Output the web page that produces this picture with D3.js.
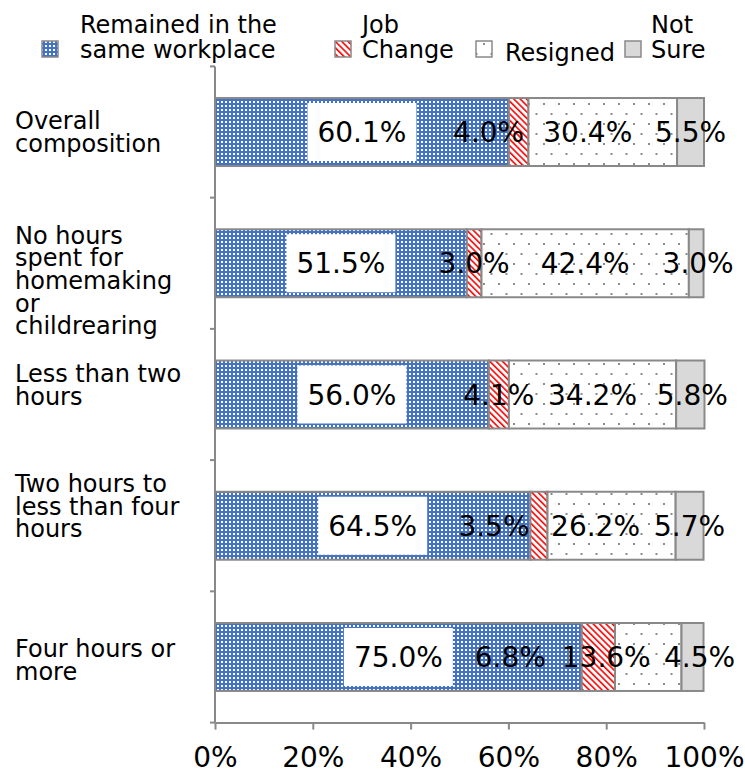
<!DOCTYPE html>
<html>
<head>
<meta charset="utf-8">
<script src="https://cdn.jsdelivr.net/npm/d3@7"></script>
<style>
  html, body { margin: 0; padding: 0; background: #fff; }
  svg { display: block; font-family: "DejaVu Sans", Verdana, sans-serif; }
</style>
</head>
<body>
<svg id="chart" width="745" height="776"></svg>
<script>
// ---- data ----
const categories = [
  "Overall composition",
  "No hours spent for homemaking or childrearing",
  "Less than two hours",
  "Two hours to less than four hours",
  "Four hours or more"
];
const categoryLines = [
  ["Overall", "composition"],
  ["No hours", "spent for", "homemaking", "or", "childrearing"],
  ["Less than two", "hours"],
  ["Two hours to", "less than four", "hours"],
  ["Four hours or", "more"]
];
const seriesNames = ["Remained in the same workplace", "Job Change", "Resigned", "Not Sure"];
const legendLines = [["Remained in the", "same workplace"], ["Job", "Change"], ["Resigned"], ["Not", "Sure"]];
const remained  = [60.1, 51.5, 56.0, 64.5, 75.0];
const jobChange = [4.0, 3.0, 4.1, 3.5, 6.8];
const resigned  = [30.4, 42.4, 34.2, 26.2, 13.6];
const notSure   = [5.5, 3.0, 5.8, 5.7, 4.5];
const xTicks    = [0, 20, 40, 60, 80, 100];

// ---- layout ----
const svg = d3.select("#chart");
const axisColor = "#898989";
const x = d3.scaleLinear().domain([0, 100]).range([215, 704]);
const y = d3.scaleBand().domain(categories).range([66.4, 722.6])
  .paddingInner(0.482).paddingOuter(0.241);

// fill patterns for the four series
const defs = svg.append("defs");
const pBlue = defs.append("pattern").attr("id", "pat-remained")
  .attr("patternUnits", "userSpaceOnUse").attr("width", 4).attr("height", 4);
pBlue.append("rect").attr("width", 4).attr("height", 4).attr("fill", "#4472C4");
pBlue.append("rect").attr("x", 1).attr("y", 1).attr("width", 2).attr("height", 2).attr("fill", "#ffffff");

const pRed = defs.append("pattern").attr("id", "pat-job")
  .attr("patternUnits", "userSpaceOnUse").attr("width", 4.5).attr("height", 4.5)
  .attr("patternTransform", "rotate(-45)");
pRed.append("rect").attr("width", 4.5).attr("height", 4.5).attr("fill", "#ffffff");
pRed.append("rect").attr("x", 0).attr("y", 0).attr("width", 1.6).attr("height", 4.5).attr("fill", "#ff0000");

const pDots = defs.append("pattern").attr("id", "pat-resigned")
  .attr("patternUnits", "userSpaceOnUse").attr("width", 15).attr("height", 20);
pDots.append("rect").attr("width", 15).attr("height", 20).attr("fill", "#ffffff");
pDots.append("rect").attr("x", 3).attr("y", 3).attr("width", 2).attr("height", 2).attr("fill", "#8c8c8c");
pDots.append("rect").attr("x", 10.5).attr("y", 13).attr("width", 2).attr("height", 2).attr("fill", "#8c8c8c");

const fills = ["url(#pat-remained)", "url(#pat-job)", "url(#pat-resigned)", "#D9D9D9"];

// stacked rows
const rows = categories.map((c, i) => {
  const vals = [remained[i], jobChange[i], resigned[i], notSure[i]];
  let acc = 0;
  return vals.map((v, k) => {
    const seg = { cat: c, row: i, series: k, value: v, x0: acc, x1: acc + v };
    acc += v;
    return seg;
  });
});
const segments = rows.flat();

// y axis line and category separators
svg.append("line")
  .attr("x1", x(0)).attr("x2", x(0))
  .attr("y1", y.range()[0]).attr("y2", y.range()[1])
  .attr("stroke", axisColor).attr("stroke-width", 2);
const bounds = d3.range(categories.length + 1).map(i => y.range()[0] + i * y.step());
svg.selectAll(".ysep").data(bounds).join("line")
  .attr("x1", x(0) - 5).attr("x2", x(0))
  .attr("y1", d => d).attr("y2", d => d)
  .attr("stroke", axisColor).attr("stroke-width", 2);

// bars
svg.append("g").selectAll("rect").data(segments).join("rect")
  .attr("x", d => x(d.x0))
  .attr("y", d => y(d.cat))
  .attr("width", d => x(d.x1) - x(d.x0))
  .attr("height", y.bandwidth())
  .attr("fill", d => fills[d.series])
  .attr("stroke", axisColor)
  .attr("stroke-width", 2);

// x axis
const xAxis = svg.append("g")
  .attr("transform", `translate(0,${y.range()[1]})`)
  .call(d3.axisBottom(x).tickValues(xTicks).tickFormat(d => d + "%").tickSize(7).tickSizeOuter(0));
xAxis.select(".domain").attr("stroke", axisColor).attr("stroke-width", 2);
xAxis.selectAll(".tick line").attr("stroke", axisColor).attr("stroke-width", 2);
xAxis.selectAll(".tick text")
  .attr("y", 0).attr("dy", 44)
  .attr("font-size", 28).attr("fill", "#000")
  .attr("font-family", "DejaVu Sans, Verdana, sans-serif");

// category labels (left), with small per-row vertical shifts
const catFont = 24, catLH = 22.6, capH = 0.73 * catFont;
const catShift = [0, 0, -10, -20, 3];
const catG = svg.append("g");
categoryLines.forEach((lines, i) => {
  const c = y(categories[i]) + y.bandwidth() / 2;
  const block = (lines.length - 1) * catLH + capH;
  const top = Math.max(c - block / 2, y(categories[i]) - 3) + catShift[i];
  const t = catG.append("text")
    .attr("x", 15).attr("font-size", catFont).attr("fill", "#000");
  lines.forEach((ln, j) => {
    t.append("tspan").attr("x", 15).attr("y", top + capH + j * catLH).text(ln);
  });
});

// value labels; offsets keep neighbouring labels apart
const labelNudge = [[0, -30, -15, 0], [0, 0, 0, 2], [0, 0, 0, 2], [0, -45, -16, 0], [0, -88, -42, 7]];
const labG = svg.append("g");
segments.forEach(d => {
  const cx = (x(d.x0) + x(d.x1)) / 2 + labelNudge[d.row][d.series];
  const cy = y(d.cat) + y.bandwidth() / 2;
  const txt = d.value.toFixed(1) + "%";
  const t = labG.append("text").attr("x", cx).attr("y", cy + 10)
    .attr("text-anchor", "middle").attr("font-size", 28).text(txt);
  if (d.series === 0) {
    const w = t.node().getComputedTextLength() + 20;
    labG.insert("rect", () => t.node())
      .attr("x", cx - w / 2).attr("y", cy - 29).attr("width", w).attr("height", 58)
      .attr("fill", "#ffffff");
  }
});

// legend
const legendX = [42, 335, 476, 625];
const legendTextX = [80, 362, 505, 651];
const legG = svg.append("g");
seriesNames.forEach((name, k) => {
  legG.append("rect")
    .attr("x", legendX[k]).attr("y", 41).attr("width", 16).attr("height", 16)
    .attr("fill", fills[k]).attr("stroke", axisColor).attr("stroke-width", 1.5);
  const lines = legendLines[k];
  const t = legG.append("text").attr("font-size", 24).attr("fill", "#000");
  if (lines.length === 1) {
    t.append("tspan").attr("x", legendTextX[k]).attr("y", 61).text(lines[0]);
  } else {
    lines.forEach((ln, j) => {
      t.append("tspan").attr("x", legendTextX[k]).attr("y", 33 + j * 25).text(ln);
    });
  }
});
</script>
</body>
</html>
